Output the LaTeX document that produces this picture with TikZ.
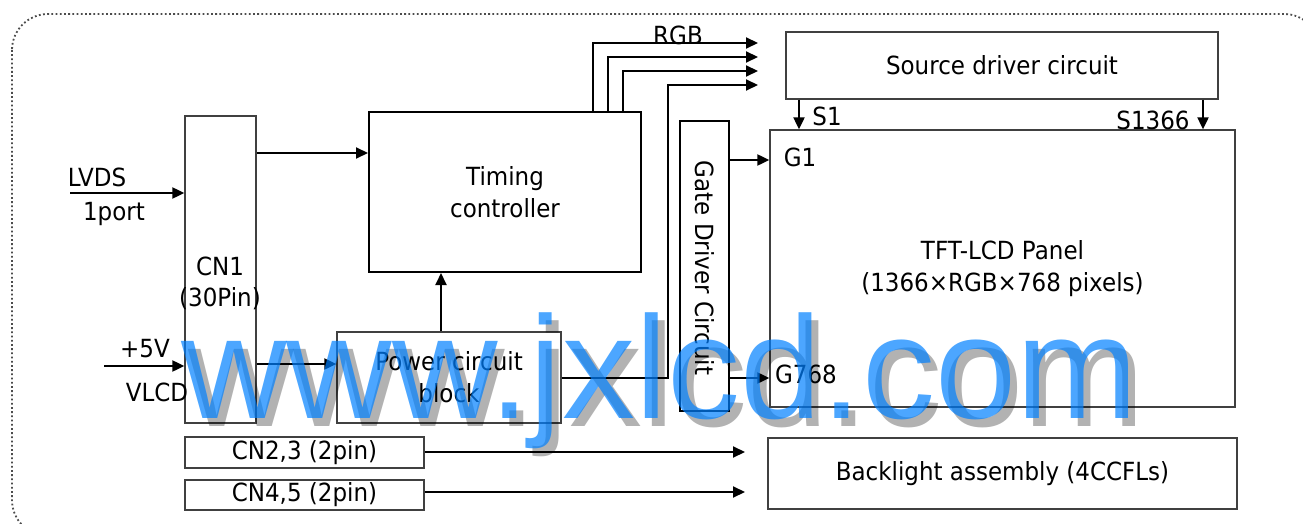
\documentclass[tikz,border=0pt]{standalone}
\usepackage{fontspec}
\setmainfont{DejaVu Sans}[FakeStretch=0.92]
\newfontfamily\wmfont{Liberation Sans}
\usepackage{xcolor}
\usetikzlibrary{arrows.meta}
\definecolor{wmblue}{RGB}{0,128,255}

\begin{document}
\begin{tikzpicture}[x=1pt, y=-1pt,
  font=\fontsize{25}{32}\selectfont,
  box/.style={draw=black!75, line width=1.3pt, inner sep=0pt, align=center},
  thickbox/.style={draw=black, line width=2pt, inner sep=0pt, align=center},
  arr/.style={-{Triangle[length=12pt, width=11pt]}, line width=2pt},
  lbl/.style={inner sep=0pt, align=center},
  wmtext/.style={anchor=base west, inner sep=0pt, font=\wmfont\fontsize{146}{146}\selectfont}]
  \useasboundingbox (0,0) rectangle (1303,524);
  \clip (0,0) rectangle (1303,524);
  % outer frame
  \draw[black!70, line width=1.8pt, dash pattern=on 1.8pt off 2.4pt, rounded corners=36pt] (12,14) rectangle (1320,536);

  % blocks
  \node[box, minimum width=71pt, minimum height=307pt] (cn1) at (220.5,269.5) {};
  \node[lbl] (cn1txt) at (220,283) {CN1\\[-1pt](30Pin)};
  \node[thickbox, minimum width=272pt, minimum height=160pt] (tc) at (505,192) {Timing\\controller};
  \node[box, minimum width=224pt, minimum height=91pt] (pwr) at (449,377.5) {Power circuit\\block};
  \node[thickbox, minimum width=49pt, minimum height=290pt] (gd) at (704.5,266) {};
  \node[lbl, rotate=-90] (gdtxt) at (705,268) {Gate Driver Circuit};
  \node[box, minimum width=432pt, minimum height=67pt] (src) at (1002,65.5) {Source driver circuit};
  \node[box, minimum width=465pt, minimum height=277pt] (panel) at (1002.5,268.5) {TFT-LCD Panel\\(1366×RGB×768 pixels)};
  \node[box, minimum width=469pt, minimum height=71pt] (bl) at (1002.5,473.5) {Backlight assembly (4CCFLs)};
  \node[box, minimum width=239pt, minimum height=31pt] (cn23) at (304.5,452.5) {CN2,3 (2pin)};
  \node[box, minimum width=239pt, minimum height=30pt] (cn45) at (304.5,495) {CN4,5 (2pin)};

  % inputs
  \coordinate (lvds) at (70,193);
  \coordinate (vin) at (104,366);
  \draw[arr] (lvds) -- (cn1.west |- lvds);
  \draw[arr] (vin) -- (cn1.west |- vin);
  \node[lbl] (lvdstxt) at (97,177) {LVDS};
  \node[lbl] (porttxt) at (114,214) {1port};
  \node[lbl] (vtxt) at (145,349) {+5V};
  \node[lbl] (vlcdtxt) at (157,392) {VLCD};

  % internal connections
  \draw[arr] (cn1.east |- 0,153) -- (tc.west |- 0,153);
  \draw[arr] (cn1.east |- 0,364) -- (pwr.west |- 0,364);
  \draw[arr] ([xshift=-8pt]pwr.north) coordinate (pup) -- (tc.south -| pup);
  \foreach \i/\x/\y in {1/593/43, 2/608/57, 3/623/71} {
    \coordinate (rgb\i) at (758,\y);
    \draw[arr] (tc.north -| \x,0) |- (rgb\i);
  }
  \coordinate (rgb4) at (758,85);
  \draw[arr] (pwr.east |- 0,378) -| (rgb4 -| 668,0) -- (rgb4);
  \node[lbl] (rgbtxt) at (678,35) {RGB};

  % panel drivers
  \draw[arr] (gd.east |- 0,160) -- (panel.west |- 0,160);
  \draw[arr] (gd.east |- 0,378) -- (panel.west |- 0,378);
  \draw[arr] (src.south -| 799,0) -- (panel.north -| 799,0);
  \draw[arr] (src.south -| 1203,0) -- (panel.north -| 1203,0);
  \node[lbl] (s1txt) at (827,116) {S1};
  \node[lbl] (s1366txt) at (1153,120) {S1366};
  \node[lbl] (g1txt) at (800,157) {G1};
  \node[lbl] (g768txt) at (806,374) {G768};

  % backlight
  \coordinate (bl1) at (745,452);
  \coordinate (bl2) at (745,492);
  \draw[arr] (cn23.east |- bl1) -- (bl1);
  \draw[arr] (cn45.east |- bl2) -- (bl2);

  % watermark
  \node[wmtext, text=black, text opacity=0.3] (wmshadow) at (188,426) {www.jxlcd.com};
  \node[wmtext, text=wmblue, text opacity=0.7] (wm) at (181,418) {www.jxlcd.com};
\end{tikzpicture}
\end{document}
